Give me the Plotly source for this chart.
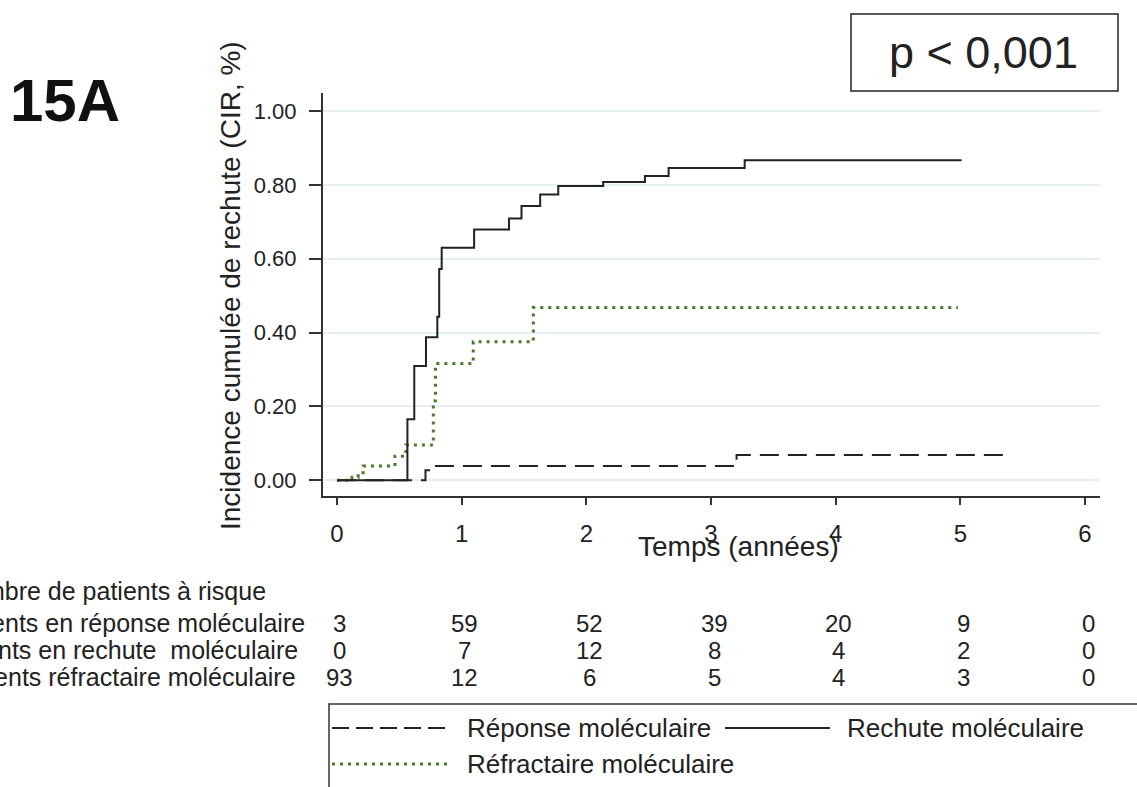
import plotly.graph_objects as go

# Cumulative incidence of relapse (step curves), time in years
rechute_t = [0, 0.565, 0.62, 0.714, 0.805, 0.82, 0.84, 1.10, 1.38, 1.48, 1.63, 1.775, 2.135, 2.47, 2.66, 3.27, 5.01]
rechute_v = [0, 0.165, 0.309, 0.387, 0.443, 0.572, 0.63, 0.679, 0.709, 0.743, 0.774, 0.797, 0.808, 0.824, 0.846, 0.867, 0.867]

refract_t = [0, 0.12, 0.17, 0.21, 0.465, 0.553, 0.773, 0.79, 1.093, 1.575, 4.98]
refract_v = [0, 0.008, 0.02, 0.038, 0.065, 0.095, 0.215, 0.316, 0.375, 0.468, 0.468]

reponse_t = [0, 0.71, 0.77, 3.205, 5.40]
reponse_v = [0, 0.027, 0.038, 0.068, 0.068]

# Number at risk table
risk_times = [0, 1, 2, 3, 4, 5, 6]
risk_reponse = [3, 59, 52, 39, 20, 9, 0]
risk_rechute = [0, 7, 12, 8, 4, 2, 0]
risk_refract = [93, 12, 6, 5, 4, 3, 0]
risk_labels = ["Patients en réponse moléculaire",
               "Patients en rechute  moléculaire",
               "Patients réfractaire moléculaire"]

y_ticks = [0, 0.2, 0.4, 0.6, 0.8, 1.0]
y_ticktext = ["0.00", "0.20", "0.40", "0.60", "0.80", "1.00"]
x_ticks = [0, 1, 2, 3, 4, 5, 6]

W, H = 1137, 787
L, R, T, B = 323, 1100, 93, 496
FONT = "Liberation Sans, Arial, sans-serif"
INK = "#222222"
GREEN = "#4a7c2c"


def px(x):
    return (x - L) / (R - L)


def py(y):
    return (B - y) / (B - T)


fig = go.Figure()
fig.add_trace(go.Scatter(x=reponse_t, y=reponse_v, mode="lines", line_shape="hv",
                         line=dict(color=INK, width=2, dash="19px,9px"), showlegend=False))
fig.add_trace(go.Scatter(x=refract_t, y=refract_v, mode="lines", line_shape="hv",
                         line=dict(color=GREEN, width=3, dash="3px,5px"), showlegend=False))
fig.add_trace(go.Scatter(x=rechute_t, y=rechute_v, mode="lines", line_shape="hv",
                         line=dict(color=INK, width=2), showlegend=False))

ann = []
shapes = []

# at-risk numbers under each time tick
rows_y = [623, 650, 677]
for row, vals in zip(rows_y, [risk_reponse, risk_rechute, risk_refract]):
    for t, v in zip(risk_times, vals):
        ann.append(dict(x=t, xref="x", y=py(row), yref="paper", text=str(v), showarrow=False,
                        xanchor="center", yanchor="middle", xshift=3,
                        font=dict(family=FONT, size=24, color=INK)))
for row, lab, xe in zip(rows_y, risk_labels, [307, 300, 298]):
    ann.append(dict(x=px(xe), xref="paper", y=py(row), yref="paper", text=lab, showarrow=False,
                    xanchor="right", yanchor="middle", font=dict(family=FONT, size=25, color=INK)))
ann.append(dict(x=px(268), xref="paper", y=py(591), yref="paper", text="Nombre de patients à risque",
                showarrow=False, xanchor="right", yanchor="middle",
                font=dict(family=FONT, size=25, color=INK)))

# panel label and p-value box
ann.append(dict(x=px(8), xref="paper", y=py(100), yref="paper", text="<b>15A</b>", showarrow=False,
                xanchor="left", yanchor="middle", font=dict(family=FONT, size=60, color="#111111")))
shapes.append(dict(type="rect", xref="paper", yref="paper", x0=px(851), x1=px(1118), y0=py(14), y1=py(91),
                   line=dict(color=INK, width=1.5)))
ann.append(dict(x=px(983), xref="paper", y=py(52), yref="paper", text="p &lt; 0,001", showarrow=False,
                xanchor="center", yanchor="middle", font=dict(family=FONT, size=45, color=INK)))

# axis titles
ann.append(dict(x=px(230), xref="paper", y=py(286), yref="paper", text="Incidence cumulée de rechute (CIR, %)",
                showarrow=False, textangle=-90, xanchor="center", yanchor="middle",
                font=dict(family=FONT, size=28, color=INK)))
ann.append(dict(x=px(738), xref="paper", y=py(546), yref="paper", text="Temps (années)",
                showarrow=False, xanchor="center", yanchor="middle",
                font=dict(family=FONT, size=28, color=INK)))

# key box
shapes.append(dict(type="rect", xref="paper", yref="paper", x0=px(329), x1=px(1145), y0=py(704), y1=py(795),
                   line=dict(color="#333333", width=1.5)))
shapes.append(dict(type="line", xref="paper", yref="paper", x0=px(332), x1=px(450), y0=py(728), y1=py(728),
                   line=dict(color=INK, width=2, dash="17px,7px")))
shapes.append(dict(type="line", xref="paper", yref="paper", x0=px(725), x1=px(830), y0=py(728), y1=py(728),
                   line=dict(color=INK, width=2)))
shapes.append(dict(type="line", xref="paper", yref="paper", x0=px(332), x1=px(450), y0=py(764), y1=py(764),
                   line=dict(color=GREEN, width=3, dash="3px,5px")))
for x0, y0, txt in [(465, 728, "Réponse moléculaire"), (845, 728, "Rechute moléculaire"),
                    (465, 764, "Réfractaire moléculaire")]:
    ann.append(dict(x=px(x0), xref="paper", y=py(y0), yref="paper", text=txt, showarrow=False,
                    xanchor="left", yanchor="middle", font=dict(family=FONT, size=26, color=INK)))

fig.update_layout(
    width=W, height=H,
    margin=dict(l=L, r=W - R, t=T, b=H - B, pad=0),
    paper_bgcolor="white", plot_bgcolor="white",
    annotations=ann, shapes=shapes,
    xaxis=dict(range=[-0.112, 6.12], tickvals=x_ticks, showgrid=False, zeroline=False,
               showline=True, linecolor="#333333", linewidth=2, ticks="outside", ticklen=7,
               tickcolor="#333333", tickwidth=2, ticklabelstandoff=8,
               tickfont=dict(family=FONT, size=24, color=INK)),
    yaxis=dict(range=[-0.043, 1.049], tickvals=y_ticks, ticktext=y_ticktext, showgrid=True,
               gridcolor="#e6f0f1", gridwidth=2, zeroline=False,
               showline=True, linecolor="#333333", linewidth=2, ticks="outside", ticklen=12,
               tickcolor="#333333", tickwidth=2, ticklabelstandoff=8,
               tickfont=dict(family=FONT, size=22, color=INK)),
)

fig.write_html("out.html")
